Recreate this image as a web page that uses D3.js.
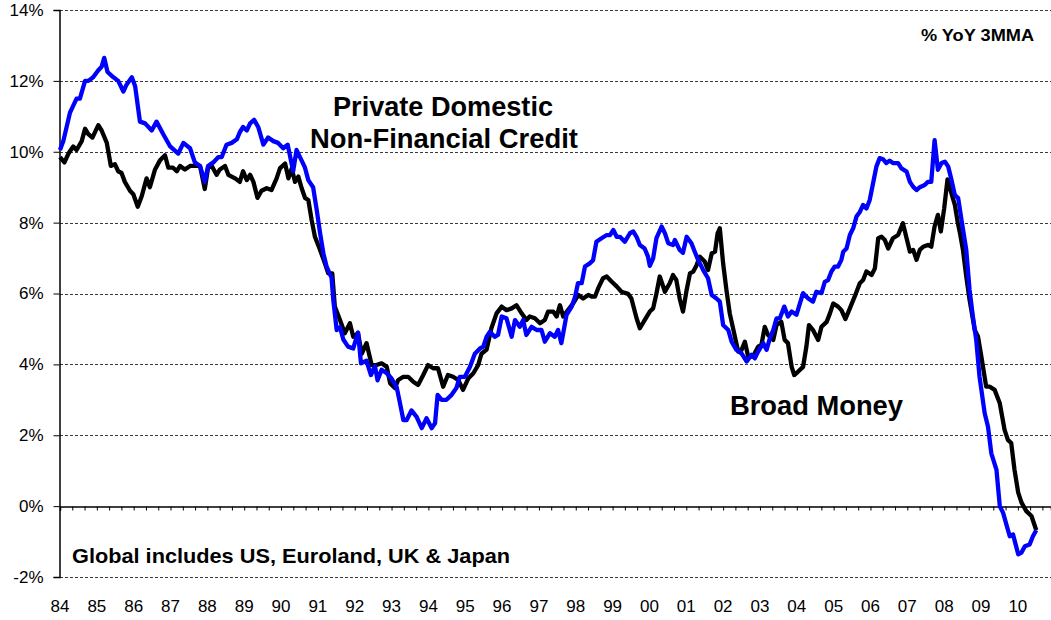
<!DOCTYPE html>
<html>
<head>
<meta charset="utf-8">
<script src="https://cdn.jsdelivr.net/npm/d3@7"></script>
<style>
  body { margin: 0; background: #fff; }
  svg text { font-family: "Liberation Sans", Arial, sans-serif; fill: #000; }
</style>
</head>
<body>
<svg id="chart" width="1051" height="620"></svg>
<script>
// decimal years + % YoY 3MMA
var creditDates = [1984.00,1984.09,1984.27,1984.36,1984.45,1984.54,1984.68,1984.77,1984.90,1985.04,1985.13,1985.20,1985.29,1985.45,1985.58,1985.72,1985.81,1985.95,1986.04,1986.17,1986.31,1986.49,1986.62,1986.80,1986.99,1987.21,1987.35,1987.53,1987.66,1987.80,1987.93,1988.02,1988.16,1988.30,1988.39,1988.52,1988.66,1988.80,1988.88,1988.97,1989.07,1989.16,1989.27,1989.38,1989.52,1989.65,1989.79,1989.92,1990.06,1990.18,1990.33,1990.42,1990.56,1990.65,1990.74,1990.87,1990.97,1991.06,1991.15,1991.24,1991.37,1991.42,1991.51,1991.60,1991.69,1991.82,1991.96,1992.09,1992.17,1992.32,1992.44,1992.55,1992.62,1992.73,1992.87,1993.00,1993.14,1993.23,1993.32,1993.41,1993.54,1993.68,1993.82,1993.95,1994.09,1994.18,1994.25,1994.36,1994.49,1994.63,1994.76,1994.85,1994.99,1995.13,1995.26,1995.40,1995.49,1995.58,1995.67,1995.80,1995.89,1995.99,1996.12,1996.26,1996.35,1996.48,1996.57,1996.66,1996.80,1996.94,1997.07,1997.16,1997.30,1997.43,1997.52,1997.61,1997.75,1997.89,1997.98,1998.06,1998.16,1998.25,1998.38,1998.47,1998.56,1998.70,1998.84,1998.93,1999.02,1999.11,1999.20,1999.33,1999.47,1999.56,1999.65,1999.74,1999.87,1999.96,2000.01,2000.10,2000.19,2000.33,2000.42,2000.51,2000.64,2000.69,2000.82,2000.91,2001.01,2001.14,2001.23,2001.32,2001.46,2001.59,2001.69,2001.82,2001.91,2002.00,2002.14,2002.23,2002.36,2002.50,2002.64,2002.77,2002.86,2002.95,2003.09,2003.18,2003.27,2003.36,2003.45,2003.54,2003.66,2003.76,2003.86,2003.99,2004.17,2004.31,2004.44,2004.53,2004.67,2004.76,2004.85,2004.94,2005.03,2005.12,2005.21,2005.26,2005.35,2005.44,2005.53,2005.62,2005.71,2005.80,2005.89,2005.98,2006.07,2006.16,2006.25,2006.34,2006.43,2006.52,2006.61,2006.75,2006.84,2006.98,2007.07,2007.16,2007.25,2007.34,2007.47,2007.56,2007.65,2007.74,2007.83,2007.93,2008.02,2008.11,2008.20,2008.29,2008.38,2008.47,2008.60,2008.69,2008.78,2008.87,2008.96,2009.10,2009.19,2009.28,2009.42,2009.51,2009.60,2009.69,2009.78,2009.87,2009.94,2010.01,2010.10,2010.19,2010.32,2010.41,2010.50];
var creditValues = [10.05,10.3,11.1,11.3,11.5,11.5,12.0,12.0,12.1,12.3,12.4,12.65,12.25,12.1,12.0,11.7,11.9,12.1,11.85,10.85,10.8,10.6,10.85,10.5,10.15,9.95,10.25,10.1,9.7,9.6,9.15,9.6,9.7,9.85,9.85,10.2,10.25,10.35,10.55,10.7,10.6,10.8,10.9,10.7,10.2,10.4,10.3,10.25,10.1,10.2,9.45,10.05,9.75,9.55,9.2,9.0,8.35,7.7,7.13,6.75,6.45,5.8,4.97,5.05,4.7,4.5,4.45,4.9,4.03,4.1,3.7,3.95,3.55,3.85,3.75,3.6,3.35,2.9,2.43,2.43,2.7,2.52,2.2,2.48,2.2,2.34,3.14,3.0,3.0,3.14,3.33,3.65,3.65,3.93,4.3,4.45,4.5,4.78,4.92,4.78,4.83,5.35,5.3,4.78,5.25,5.06,5.25,4.83,5.06,4.97,4.97,4.64,4.88,4.78,4.97,4.6,5.4,5.63,5.9,6.29,6.29,6.76,6.85,6.94,7.46,7.56,7.65,7.65,7.79,7.6,7.6,7.46,7.7,7.75,7.6,7.37,7.27,7.04,6.78,6.99,7.56,7.89,7.7,7.42,7.37,7.51,7.23,7.15,7.6,7.42,7.18,6.95,6.66,6.43,5.96,5.86,5.77,5.11,4.97,4.64,4.41,4.31,4.08,4.27,4.17,4.36,4.6,4.41,4.74,4.97,5.3,5.3,5.63,5.35,5.49,5.4,6.01,5.86,5.77,6.05,6.01,6.33,6.38,6.62,6.76,6.76,6.95,7.18,7.27,7.65,7.84,8.17,8.3,8.5,8.4,8.64,9.11,9.58,9.82,9.79,9.68,9.75,9.68,9.68,9.53,9.44,9.15,9.01,8.92,9.0,9.06,9.15,9.15,10.33,9.49,9.68,9.72,9.58,9.2,8.78,8.69,8.08,7.23,6.1,5.35,4.69,3.65,2.62,2.24,1.49,1.02,0.0,-0.19,-0.52,-0.85,-0.8,-1.08,-1.36,-1.31,-1.13,-1.08,-0.85,-0.68];

var moneyDates = [1984.00,1984.12,1984.23,1984.36,1984.45,1984.59,1984.68,1984.77,1984.88,1985.04,1985.13,1985.27,1985.38,1985.49,1985.58,1985.67,1985.76,1985.90,1985.99,1986.11,1986.22,1986.35,1986.44,1986.58,1986.71,1986.85,1986.94,1987.07,1987.17,1987.26,1987.39,1987.53,1987.66,1987.80,1987.93,1988.02,1988.12,1988.25,1988.34,1988.48,1988.57,1988.75,1988.88,1988.97,1989.07,1989.16,1989.25,1989.36,1989.47,1989.61,1989.74,1989.88,1989.97,1990.11,1990.20,1990.29,1990.38,1990.47,1990.56,1990.65,1990.74,1990.83,1990.92,1991.06,1991.19,1991.28,1991.39,1991.46,1991.60,1991.73,1991.87,1991.96,1992.09,1992.19,1992.32,1992.46,1992.59,1992.73,1992.87,1992.96,1993.09,1993.18,1993.32,1993.45,1993.59,1993.72,1993.86,1993.99,1994.13,1994.26,1994.40,1994.53,1994.67,1994.81,1994.94,1995.08,1995.22,1995.35,1995.44,1995.58,1995.71,1995.85,1995.99,1996.12,1996.26,1996.39,1996.53,1996.66,1996.75,1996.89,1997.03,1997.16,1997.25,1997.39,1997.48,1997.57,1997.66,1997.79,1997.93,1998.07,1998.20,1998.34,1998.43,1998.52,1998.61,1998.74,1998.84,1998.97,1999.11,1999.24,1999.42,1999.51,1999.65,1999.74,1999.87,2000.01,2000.10,2000.19,2000.28,2000.42,2000.55,2000.64,2000.73,2000.82,2000.91,2001.01,2001.10,2001.19,2001.28,2001.37,2001.50,2001.59,2001.69,2001.78,2001.85,2001.91,2002.00,2002.09,2002.18,2002.32,2002.41,2002.50,2002.59,2002.68,2002.81,2002.95,2003.04,2003.13,2003.22,2003.36,2003.45,2003.58,2003.67,2003.76,2003.86,2003.93,2004.03,2004.17,2004.26,2004.33,2004.44,2004.58,2004.67,2004.81,2004.90,2004.99,2005.12,2005.21,2005.32,2005.44,2005.57,2005.71,2005.80,2005.89,2006.03,2006.12,2006.21,2006.30,2006.39,2006.48,2006.61,2006.75,2006.88,2006.98,2007.07,2007.16,2007.25,2007.34,2007.43,2007.56,2007.65,2007.74,2007.83,2007.91,2008.00,2008.09,2008.20,2008.29,2008.37,2008.43,2008.51,2008.60,2008.69,2008.83,2008.92,2009.01,2009.14,2009.24,2009.37,2009.51,2009.64,2009.73,2009.82,2009.91,2010.01,2010.10,2010.23,2010.37,2010.50];
var moneyValues = [9.85,9.7,9.95,10.15,10.05,10.3,10.65,10.5,10.4,10.75,10.6,10.25,9.6,9.65,9.45,9.4,9.15,8.9,8.8,8.45,8.75,9.25,9.0,9.5,9.75,9.9,9.55,9.55,9.45,9.6,9.5,9.6,9.6,9.6,8.95,9.55,9.6,9.35,9.5,9.6,9.35,9.25,9.15,9.45,9.2,9.35,9.15,8.7,8.9,8.97,8.92,9.25,9.53,9.67,9.25,9.53,9.15,9.3,8.97,8.7,8.64,8.08,7.6,7.23,6.85,6.57,6.57,5.63,5.25,4.88,5.16,4.78,4.88,4.3,4.6,3.98,3.98,4.03,3.93,3.47,3.33,3.56,3.65,3.65,3.51,3.42,3.7,3.98,3.89,3.89,3.37,3.7,3.65,3.56,3.28,3.6,3.75,3.98,4.3,4.42,5.02,5.44,5.63,5.53,5.58,5.67,5.44,5.25,5.35,5.3,5.16,5.25,5.49,5.49,5.35,5.67,5.35,5.53,5.72,5.96,5.86,5.96,5.91,5.91,6.15,6.43,6.48,6.34,6.2,6.05,5.99,5.86,5.3,5.02,5.25,5.49,5.58,6.0,6.48,6.05,6.29,6.52,6.38,5.86,5.49,6.1,6.57,6.62,6.8,7.04,6.9,6.66,7.13,7.18,7.7,7.84,6.85,6.1,5.44,4.78,4.36,4.41,4.64,4.22,4.22,4.5,4.55,5.06,4.83,4.69,5.11,5.2,4.69,4.6,3.93,3.7,3.79,3.93,4.5,5.11,4.97,4.69,5.06,5.2,5.44,5.72,5.63,5.53,5.28,5.58,5.91,6.29,6.38,6.62,6.52,6.71,7.56,7.6,7.51,7.27,7.56,7.65,7.98,7.56,7.18,7.23,6.95,7.23,7.32,7.37,7.32,7.89,8.22,7.75,8.4,9.22,8.82,8.5,8.0,7.7,7.23,6.48,5.82,4.97,4.78,4.22,3.37,3.37,3.28,2.9,2.15,1.87,1.78,1.02,0.38,0.1,-0.14,-0.28,-0.68];

var yTicks = [-2, 0, 2, 4, 6, 8, 10, 12, 14];
var yearLabels = d3.range(1984, 2011);

var svg = d3.select('#chart');

var x = d3.scaleLinear().domain([1984, 2010.9]).range([60, 1051]);
var y = d3.scaleLinear().domain([-2, 14]).range([577, 10]);

// dashed gridlines
svg.append('g')
    .selectAll('line')
    .data(yTicks.filter(function(d) { return d !== 0; }))
    .enter().append('line')
    .attr('x1', 60).attr('x2', 1051)
    .attr('y1', function(d) { return Math.round(y(d)) + 0.5; })
    .attr('y2', function(d) { return Math.round(y(d)) + 0.5; })
    .attr('stroke', '#3a3a3a')
    .attr('stroke-width', 1)
    .attr('stroke-dasharray', '3,2');

// y axis
var yAxis = d3.axisLeft(y)
    .tickValues(yTicks)
    .tickSize(6)
    .tickPadding(10)
    .tickFormat(function(d) { return d + '%'; });

var gy = svg.append('g')
    .attr('transform', 'translate(59.5,0)')
    .call(yAxis);
gy.select('.domain').attr('stroke', '#000').attr('stroke-width', 1.5);
gy.selectAll('.tick line').attr('stroke', '#000');
gy.selectAll('.tick text')
    .style('font-size', '17px')
    .attr('fill', '#000');

// x axis along 0%, ticks every 4 months
var xAxis = d3.axisBottom(x)
    .tickValues(d3.range(0, 323, 4).map(function(m) { return 1984 + m / 12; }))
    .tickSize(4)
    .tickFormat('');

var gx = svg.append('g')
    .attr('transform', 'translate(0,' + (Math.round(y(0)) + 0.5) + ')')
    .call(xAxis);
gx.select('.domain').attr('stroke', '#000').attr('stroke-width', 1.5);
gx.selectAll('.tick line').attr('stroke', '#000');

// year labels at the bottom
svg.append('g')
    .selectAll('text')
    .data(yearLabels)
    .enter().append('text')
    .attr('x', function(d) { return x(d); })
    .attr('y', 612)
    .attr('text-anchor', 'middle')
    .style('font-size', '17px')
    .text(function(d) { return String(d).slice(2); });

function series(dates, values) {
    return dates.map(function(d, i) { return [d, values[i]]; });
}

var line = d3.line()
    .x(function(d) { return x(d[0]); })
    .y(function(d) { return y(d[1]); });

svg.append('path')
    .datum(series(moneyDates, moneyValues))
    .attr('d', line)
    .attr('fill', 'none')
    .attr('stroke', '#000')
    .attr('stroke-width', 4.3)
    .attr('stroke-linejoin', 'round');

svg.append('path')
    .datum(series(creditDates, creditValues))
    .attr('d', line)
    .attr('fill', 'none')
    .attr('stroke', '#0000ff')
    .attr('stroke-width', 4.3)
    .attr('stroke-linejoin', 'round');

// annotations, stretched to the widths seen in the original
function note(txt, px, py, size, width, anchor) {
    return svg.append('text')
        .attr('x', px).attr('y', py)
        .attr('text-anchor', anchor || 'start')
        .attr('textLength', width)
        .attr('lengthAdjust', 'spacingAndGlyphs')
        .style('font-weight', 'bold')
        .style('font-size', size + 'px')
        .text(txt);
}
note('Private Domestic', 443, 116, 27, 220, 'middle');
note('Non-Financial Credit', 444, 148, 27, 268, 'middle');
note('Broad Money', 730, 415, 27, 173);
note('% YoY 3MMA', 921, 41, 17, 113);
note('Global includes US, Euroland, UK & Japan', 72, 563, 21, 438);
</script>
</body>
</html>
